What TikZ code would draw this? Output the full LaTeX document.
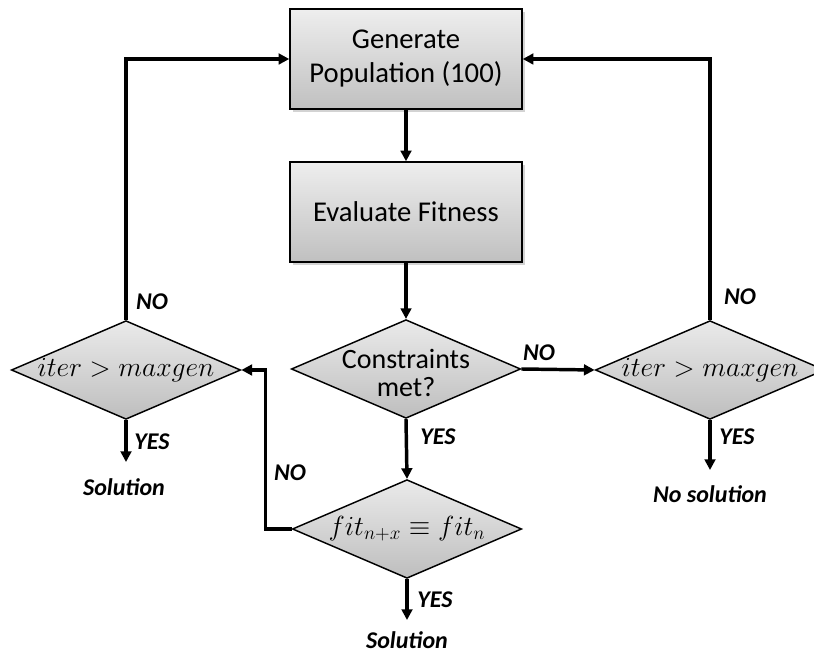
\documentclass[tikz,border=0pt]{standalone}
\usepackage{fontspec}
\setmainfont{Carlito}
\usetikzlibrary{shapes.geometric,arrows.meta,shadows,calc}
\definecolor{boxtop}{RGB}{238,238,238}
\definecolor{boxbot}{RGB}{192,192,192}
\definecolor{diatop}{RGB}{234,234,234}
\definecolor{diabot}{RGB}{190,190,190}
\tikzset{
  procbox/.style={rectangle, draw=black, line width=1.1pt,
    top color=boxtop, bottom color=boxbot,
    minimum width=174pt, minimum height=75pt, inner sep=0pt,
    align=center, font=\fontsize{21.5}{25.5}\selectfont,
    drop shadow={opacity=0.35, shadow xshift=2pt, shadow yshift=-2pt}},
  decision/.style={diamond, draw=black, line width=1.1pt,
    top color=diatop, bottom color=diabot,
    minimum width=172pt, minimum height=74pt, inner sep=0pt},
  dtext/.style={font=\fontsize{21}{21}\selectfont, align=center, inner sep=0pt},
  mtext/.style={font=\fontsize{19.5}{21}\selectfont, inner sep=0pt},
  flow/.style={line width=2.6pt, -{Triangle[length=8pt,width=8pt]}},
  tag/.style={font=\fontsize{18}{21}\selectfont\bfseries\itshape, inner sep=0pt},
}
\begin{document}
\begin{tikzpicture}[x=0.75pt,y=-0.75pt]
\useasboundingbox (0,0) rectangle (814,655);
\clip (0,0) rectangle (814,655);

% process steps
\node[procbox] (gen) at (406,59) {Generate\\Population (100)};
\node[procbox] (eval) at (406,212) {Evaluate Fitness};

% decisions
\node[decision] (cons) at (406,369) {};
\node[dtext] (const) at (406,373) {Constraints\\met?};
\node[decision] (itl) at (126,370) {};
\node[mtext] (itlt) at (itl) {$iter > maxgen$};
\node[decision] (itr) at (710,370) {};
\node[mtext] (itrt) at (itr) {$iter > maxgen$};
\node[decision] (fit) at (407,529) {};
\node[mtext] (fitt) at (fit) {$fit_{n+x} \equiv fit_n$};

% free ends of the terminating arrows
\coordinate (endl) at (126,462);
\coordinate (endr) at (710,470);
\coordinate (endf) at (407,620);

% outcomes
\node[tag] (soll) at (124,487) {Solution};
\node[tag] (nosol) at (710,494) {No solution};
\node[tag] (solf) at (407,640) {Solution};

% connectors
\draw[flow] (gen) -- (eval);
\draw[flow] (eval) -- (cons);
\draw[flow] (cons.east) -- (itr.west);
\draw[flow] (cons.south) -- (fit.north);
\draw[flow] (fit.west) -- ($(fit.west)+(-26,0)$) |- (itl.east);
\draw[flow] (itl.north) |- (gen.west);
\draw[flow] (itr.north) |- (gen.east);
\draw[flow] (itl.south) -- (endl);
\draw[flow] (itr.south) -- (endr);
\draw[flow] (fit.south) -- (endf);

% branch labels
\node[tag] (nol) at (152,302) {NO};
\node[tag] (yesl) at (152,442) {YES};
\node[tag] (nof) at (290,473) {NO};
\node[tag] (yesc) at (438,437) {YES};
\node[tag] (noc) at (539,353) {NO};
\node[tag] (nor) at (740,297) {NO};
\node[tag] (yesr) at (737,437) {YES};
\node[tag] (yesf) at (435,600) {YES};
\end{tikzpicture}
\end{document}
